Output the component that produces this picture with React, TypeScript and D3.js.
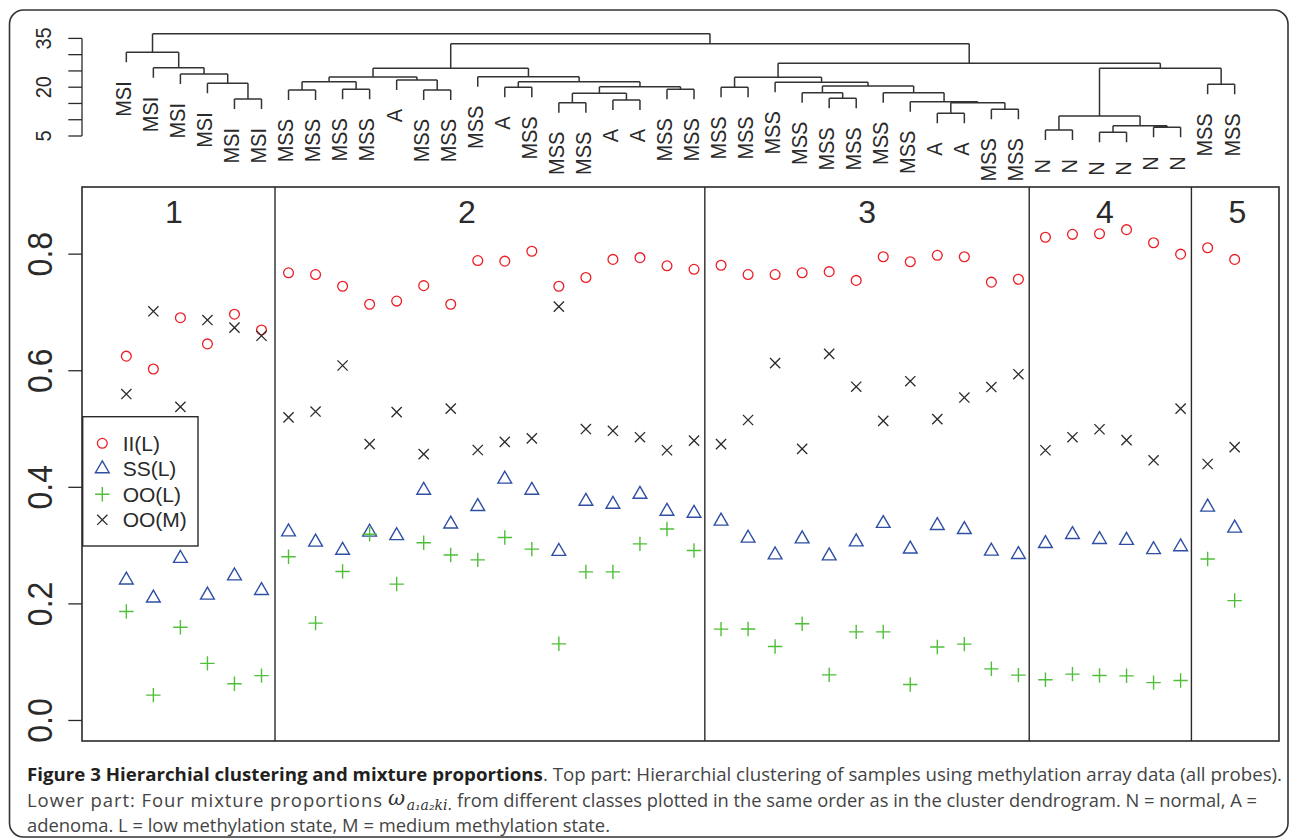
import React from "react";
import * as d3 from "d3";

// ---------------- data ----------------
const leafLabels = [
  "MSI", "MSI", "MSI", "MSI", "MSI", "MSI",
  "MSS", "MSS", "MSS", "MSS", "A", "MSS", "MSS", "MSS", "A", "MSS", "MSS", "MSS", "A", "A", "MSS", "MSS",
  "MSS", "MSS", "MSS", "MSS", "MSS", "MSS", "MSS", "MSS", "A", "A", "MSS", "MSS",
  "N", "N", "N", "N", "N", "N",
  "MSS", "MSS",
];

// hclust-style merges: negative = leaf (1-based), positive = earlier merge (1-based), then height
const merges: [number, number, number][] = [
  [-5, -6, 16.37], [-4, 1, 21.2], [-3, 2, 24.06], [-2, 3, 26.0], [-1, 4, 30.73],
  [-7, -8, 19.14], [-9, -10, 19.36], [6, 7, 21.69], [-12, -13, 19.14], [-11, 9, 22.22],
  [8, 10, 23.14], [-15, -16, 19.97], [-17, -18, 15.24], [-19, -20, 16.07], [13, 14, 18.13],
  [-21, -22, 19.36], [15, 16, 20.16], [12, 17, 21.69], [-14, 18, 23.24], [11, 19, 25.81],
  [-23, -24, 19.97], [-27, -28, 16.59], [-26, 22, 18.31], [-31, -32, 11.98], [-33, -34, 13.21],
  [24, 25, 15.24], [-30, 26, 15.54], [-29, 27, 18.31], [23, 28, 20.37], [-25, 29, 21.51],
  [21, 30, 23.05], [-35, -36, 6.84], [-37, -38, 6.14], [-39, -40, 7.67], [33, 34, 8.17],
  [32, 35, 11.15], [-41, -42, 20.89], [36, 37, 25.81], [31, 38, 27.35], [20, 39, 33.37],
  [5, 40, 36.45],
];

const iiL = [
  0.625, 0.603, 0.691, 0.646, 0.697, 0.670,
  0.768, 0.765, 0.745, 0.714, 0.7195, 0.746, 0.714, 0.789, 0.788, 0.805, 0.745, 0.760, 0.791, 0.794, 0.780, 0.774,
  0.781, 0.765, 0.765, 0.768, 0.770, 0.755, 0.7955, 0.787, 0.798, 0.7955, 0.752, 0.757,
  0.829, 0.834, 0.835, 0.842, 0.8195, 0.800,
  0.811, 0.791,
];
const ssL = [
  0.241, 0.210, 0.278, 0.215, 0.248, 0.223,
  0.3235, 0.306, 0.292, 0.323, 0.317, 0.395, 0.337, 0.367, 0.414, 0.395, 0.290, 0.376, 0.371, 0.388, 0.359, 0.3555,
  0.342, 0.3127, 0.284, 0.3115, 0.2824, 0.3064, 0.338, 0.294, 0.3344, 0.3275, 0.2904, 0.2847,
  0.3035, 0.319, 0.3104, 0.309, 0.293, 0.298,
  0.366, 0.330,
];
const ooL = [
  0.187, 0.0435, 0.160, 0.098, 0.063, 0.077,
  0.281, 0.167, 0.2555, 0.3195, 0.234, 0.305, 0.284, 0.2755, 0.314, 0.294, 0.1315, 0.255, 0.255, 0.303, 0.3286, 0.2915,
  0.1567, 0.157, 0.127, 0.166, 0.0783, 0.152, 0.152, 0.0617, 0.126, 0.131, 0.0886, 0.0778,
  0.0698, 0.0795, 0.0772, 0.0766, 0.065, 0.0686,
  0.277, 0.2057,
];
const ooM = [
  0.560, 0.702, 0.538, 0.687, 0.674, 0.660,
  0.520, 0.530, 0.609, 0.474, 0.529, 0.457, 0.535, 0.464, 0.478, 0.484, 0.710, 0.500, 0.497, 0.486, 0.4636, 0.480,
  0.474, 0.5155, 0.613, 0.466, 0.629, 0.5726, 0.514, 0.582, 0.517, 0.554, 0.572, 0.594,
  0.4636, 0.486, 0.4996, 0.481, 0.4464, 0.535,
  0.440, 0.469,
];

const clusterNames = ["1", "2", "3", "4", "5"];
const clusterLabelPos = [2.76, 13.6, 28.4, 37.2, 42.1];
const clusterBreaks = [6.5, 22.4, 34.4, 40.4];
const yTicks = [0, 0.2, 0.4, 0.6, 0.8];
const yTickLabels = ["0.0", "0.2", "0.4", "0.6", "0.8"];
const dendroTicks = [5, 10, 15, 20, 25, 30, 35];
const dendroLabelTicks = [5, 20, 35];
const legendLabels = ["II(L)", "SS(L)", "OO(L)", "OO(M)"];

// ---------------- styles ----------------
const FONT = "'Liberation Sans', Arial, Helvetica, sans-serif";
const CAP_FONT = "'Open Sans', 'Noto Sans', sans-serif";
const SERIF = "'DejaVu Serif', serif";
const INK = "#2a2a2a";
const RED = "#ec1c24";
const BLUE = "#2e4fa3";
const GREEN = "#4fbf3a";
const R = 5.1;

const n = leafLabels.length;
const x = d3.scaleLinear().domain([1 - 0.04 * 41, n + 0.04 * 41]).range([82, 1279]);
const y = d3.scaleLinear().domain([-0.0352, 0.9152]).range([741, 187]);
const hY = d3.scaleLinear().domain([5, 35]).range([136, 38.4]);
const hangPx = 10;
const labelGap = 19;

type Sym = "circle" | "tri" | "plus" | "cross";

function marker(sym: Sym, cx: number, cy: number, color: string, key: string) {
  if (sym === "circle")
    return <circle key={key} cx={cx} cy={cy} r={R - 0.2} fill="none" stroke={color} strokeWidth={1.3} />;
  if (sym === "tri") {
    const p = `M${cx},${cy - 1.555 * R}L${cx + 1.3468 * R},${cy + 0.7776 * R}L${cx - 1.3468 * R},${cy + 0.7776 * R}Z`;
    return <path key={key} d={p} fill="none" stroke={color} strokeWidth={1.4} />;
  }
  if (sym === "plus") {
    const a = 1.414 * R;
    return <path key={key} d={`M${cx - a},${cy}H${cx + a}M${cx},${cy - a}V${cy + a}`} stroke={color} strokeWidth={1.4} fill="none" />;
  }
  return <path key={key} d={`M${cx - R},${cy - R}L${cx + R},${cy + R}M${cx - R},${cy + R}L${cx + R},${cy - R}`} stroke={color} strokeWidth={1.3} fill="none" />;
}

const series: { vals: number[]; sym: Sym; color: string }[] = [
  { vals: iiL, sym: "circle", color: RED },
  { vals: ssL, sym: "tri", color: BLUE },
  { vals: ooL, sym: "plus", color: GREEN },
  { vals: ooM, sym: "cross", color: INK },
];

// dendrogram layout
function buildDendro() {
  const nodeX: number[] = [];
  const segs: string[] = [];
  const leafEnds: { x: number; y: number; label: string }[] = [];
  const childX = (c: number) => (c < 0 ? x(-c) : nodeX[c - 1]);
  merges.forEach(([a, b, h], i) => {
    const xa = childX(a);
    const xb = childX(b);
    const yy = hY(h);
    nodeX[i] = (xa + xb) / 2;
    segs.push(`M${xa},${yy}H${xb}`);
    [a, b].forEach((c) => {
      const cx = childX(c);
      if (c < 0) {
        const ye = yy + hangPx;
        segs.push(`M${cx},${yy}V${ye}`);
        leafEnds.push({ x: cx, y: ye, label: leafLabels[-c - 1] });
      } else {
        segs.push(`M${cx},${yy}V${hY(merges[c - 1][2])}`);
      }
    });
  });
  return { d: segs.join(""), leafEnds };
}

export default function App() {
  const dendro = buildDendro();
  const legendRows = [443.3, 468.8, 494.3, 519.8];
  return (
    <svg width={1290} height={840} style={{ position: "absolute", left: 0, top: 0, background: "#fff" }} fontFamily={FONT}>
      <rect x={9.5} y={10} width={1278.5} height={827} rx={14} fill="none" stroke="#333" strokeWidth={1.6} />

      {/* dendrogram axis */}
      <path d={`M82,${hY(5)}V${hY(35)}`} stroke={INK} strokeWidth={1.3} fill="none" />
      {dendroTicks.map((t) => (
        <line key={t} x1={68.3} x2={82} y1={hY(t)} y2={hY(t)} stroke={INK} strokeWidth={1.3} />
      ))}
      {dendroLabelTicks.map((t) => (
        <text key={t} transform={`translate(43.5,${hY(t)}) rotate(-90) scale(1,1.12)`} textAnchor="middle" dy="0.35em" fontSize={20} fill={INK}>
          {t}
        </text>
      ))}

      {/* dendrogram */}
      <path d={dendro.d} stroke="#333" strokeWidth={1.5} fill="none" />
      {dendro.leafEnds.map((l, i) => (
        <text key={i} transform={`translate(${l.x - 3},${l.y + labelGap}) rotate(-90) scale(1,1.12)`} textAnchor="end" dy="0.35em" fontSize={20} fill={INK}>
          {l.label}
        </text>
      ))}

      {/* lower plot frame */}
      <rect x={82} y={187} width={1197} height={554} fill="none" stroke={INK} strokeWidth={1.6} />
      {clusterBreaks.map((b) => (
        <line key={b} x1={x(b)} x2={x(b)} y1={187} y2={741} stroke={INK} strokeWidth={1.4} />
      ))}
      {clusterNames.map((c, i) => (
        <text key={c} x={x(clusterLabelPos[i])} y={y(0.853)} textAnchor="middle" fontSize={32} fill={INK}>
          {c}
        </text>
      ))}

      {/* y axis */}
      {yTicks.map((t, i) => (
        <g key={t}>
          <line x1={68.3} x2={82} y1={y(t)} y2={y(t)} stroke={INK} strokeWidth={1.3} />
          <text transform={`translate(39.5,${y(t)}) rotate(-90) scale(1,1.12)`} textAnchor="middle" dy="0.35em" fontSize={32} fill={INK}>
            {yTickLabels[i]}
          </text>
        </g>
      ))}

      {/* points */}
      {series.map((s, si) => (
        <g key={si}>{s.vals.map((v, i) => marker(s.sym, x(i + 1), y(v), s.color, `${si}-${i}`))}</g>
      ))}

      {/* legend */}
      <rect x={82.7} y={416.7} width={115.3} height={129.3} fill="#fff" stroke={INK} strokeWidth={1.4} />
      {legendLabels.map((l, i) => (
        <g key={l}>
          {marker(series[i].sym, 102.3, legendRows[i], series[i].color, "lg" + i)}
          <text x={122.7} y={legendRows[i]} dy="0.36em" fontSize={21} fill={INK}>
            {l}
          </text>
        </g>
      ))}

      {/* caption */}
      <g fontFamily={CAP_FONT} fontSize={18.5}>
        <text x={27} y={781} fill="#444" textLength={1255} lengthAdjust="spacingAndGlyphs">
          <tspan fontWeight="bold" fill="#231f20">Figure 3 Hierarchial clustering and mixture proportions</tspan>
          <tspan>. Top part: Hierarchial clustering of samples using methylation array data (all probes).</tspan>
        </text>
        <text x={27} y={807} fill="#444" textLength={355} lengthAdjust="spacing">
          Lower part: Four mixture proportions
        </text>
        <text x={388} y={805} fill="#333" fontFamily={SERIF} fontStyle="italic">
          <tspan fontSize={21}>ω</tspan>
          <tspan fontSize={14} dx={1.5} dy={5}>a₁a₂ki.</tspan>
        </text>
        <text x={457} y={807} fill="#444" textLength={800} lengthAdjust="spacingAndGlyphs">
          from different classes plotted in the same order as in the cluster dendrogram. N = normal, A =
        </text>
        <text x={27} y={832} fill="#444" textLength={583} lengthAdjust="spacingAndGlyphs">
          adenoma. L = low methylation state, M = medium methylation state.
        </text>
      </g>
    </svg>
  );
}
